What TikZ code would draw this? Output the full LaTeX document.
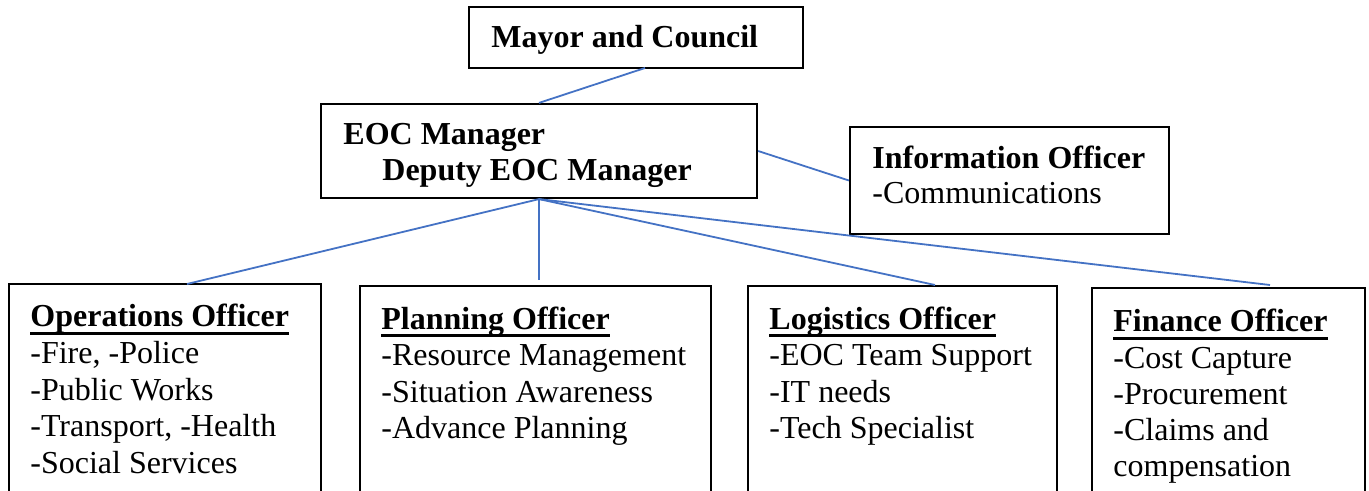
\documentclass[tikz,border=0pt]{standalone}
\usepackage{fontspec}
\setmainfont{Liberation Serif}
\usetikzlibrary{fit}
\definecolor{linkblue}{RGB}{68,114,196}
\newsavebox{\headbox}
\newcommand{\headline}[1]{\sbox{\headbox}{#1}\rlap{\rule[-4pt]{\wd\headbox}{1.3pt}}\usebox{\headbox}}
\tikzset{
    box/.style={draw, line width=1.1pt, inner sep=0pt},
    title/.style={anchor=base west, inner sep=0pt, font=\bfseries\fontsize{16}{18}\selectfont},
    item/.style={anchor=base west, inner sep=0pt, font=\fontsize{16}{18}\selectfont},
    link/.style={draw=linkblue, line width=0.9pt},
    }

\begin{document}
\begin{tikzpicture}[x=0.5pt, y=-0.5pt]
\clip (0,0) rectangle (1369,491);

% boxes
\node[box, fit={(469,7) (803,68)}] (mayor) {};
\node[box, fit={(321,104) (757,198)}] (eoc) {};
\node[box, fit={(850,127) (1169,234)}] (info) {};
\node[box, fit={(9,284) (321,530)}] (ops) {};
\node[box, fit={(360,286) (711,530)}] (plan) {};
\node[box, fit={(748,286) (1057,530)}] (logi) {};
\node[box, fit={(1092,288) (1365,530)}] (fin) {};

% texts
\node[title] (mayorT) at (491,48) {Mayor and Council};
\node[title] (eocT) at (343,145) {EOC Manager};
\node[title] (deputyT) at (382,181) {Deputy EOC Manager};
\node[title] (infoT) at (872,169) {Information Officer};
\node[item] (infoC) at (872,204) {-Communications};

\node[title] (opsT) at (30,327) {\headline{Operations Officer}};
\foreach \txt [count=\i] in {{-Fire, -Police},{-Public Works},{-Transport, -Health},{-Social Services}}
    \node[item] (ops\i) at (30,327+36.6*\i) {\txt};

\node[title] (planT) at (381,329) {\headline{Planning Officer}};
\foreach \txt [count=\i] in {{-Resource Management},{-Situation Awareness},{-Advance Planning}}
    \node[item] (plan\i) at (381,329+36.6*\i) {\txt};

\node[title] (logiT) at (769,329) {\headline{Logistics Officer}};
\foreach \txt [count=\i] in {{-EOC Team Support},{-IT needs},{-Tech Specialist}}
    \node[item] (logi\i) at (769,329+36.6*\i) {\txt};

\node[title] (finT) at (1113,332) {\headline{Finance Officer}};
\foreach \txt [count=\i] in {{-Cost Capture},{-Procurement},{-Claims and},{compensation}}
    \node[item] (fin\i) at (1113,332+36.2*\i) {\txt};

% connectors
\coordinate (mayorFoot) at (645,68);
\coordinate (opsTop) at (187,284);
\coordinate (planTop) at (539,280);
\coordinate (logiTop) at (935,285);
\coordinate (finTop) at (1270,285);

\draw[link] (mayorFoot) -- (eoc.north);
\draw[link] (eoc.east) -- (info.west);
\draw[link] (eoc.south) -- (opsTop);
\draw[link] (eoc.south) -- (planTop);
\draw[link] (eoc.south) -- (logiTop);
\draw[link] (eoc.south) -- (finTop);
\end{tikzpicture}
\end{document}
